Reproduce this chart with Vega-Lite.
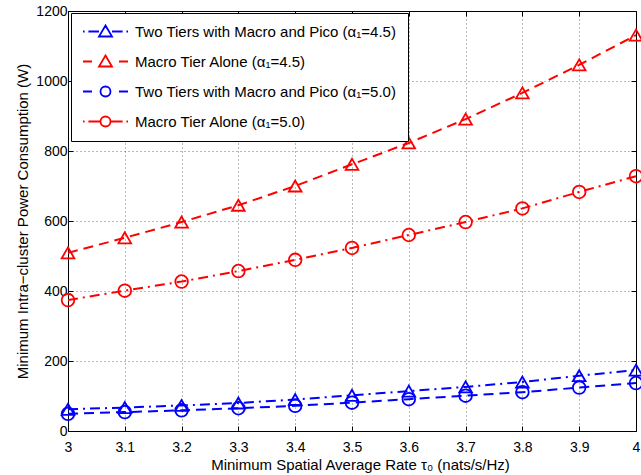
{
  "$schema": "https://vega.github.io/schema/vega-lite/v6.json",
  "width": 568,
  "height": 420,
  "autosize": {"type": "none"},
  "padding": {"left": 68, "top": 11, "right": 5, "bottom": 44},
  "background": "white",
  "config": {
    "font": "Liberation Sans",
    "view": {"stroke": "#000", "strokeWidth": 1},
    "axis": {
      "labelFont": "Liberation Sans",
      "titleFont": "Liberation Sans",
      "labelFontSize": 14,
      "titleFontSize": 15,
      "titleFontWeight": "normal",
      "labelColor": "#000",
      "titleColor": "#000",
      "domainColor": "#000",
      "tickColor": "#000",
      "gridColor": "#000",
      "gridDash": [1, 3],
      "gridOpacity": 0.55,
      "gridWidth": 1
    }
  },
  "data": {
    "values": [
      {"x": 3.0, "y": 62, "s": "A"}, {"x": 3.1, "y": 67, "s": "A"}, {"x": 3.2, "y": 73, "s": "A"}, {"x": 3.3, "y": 80, "s": "A"}, {"x": 3.4, "y": 90, "s": "A"}, {"x": 3.5, "y": 102, "s": "A"}, {"x": 3.6, "y": 114, "s": "A"}, {"x": 3.7, "y": 126, "s": "A"}, {"x": 3.8, "y": 140, "s": "A"}, {"x": 3.9, "y": 158, "s": "A"}, {"x": 4.0, "y": 174, "s": "A"},
      {"x": 3.0, "y": 509, "s": "B"}, {"x": 3.1, "y": 552, "s": "B"}, {"x": 3.2, "y": 597, "s": "B"}, {"x": 3.3, "y": 645, "s": "B"}, {"x": 3.4, "y": 700, "s": "B"}, {"x": 3.5, "y": 762, "s": "B"}, {"x": 3.6, "y": 823, "s": "B"}, {"x": 3.7, "y": 891, "s": "B"}, {"x": 3.8, "y": 966, "s": "B"}, {"x": 3.9, "y": 1046, "s": "B"}, {"x": 4.0, "y": 1131, "s": "B"},
      {"x": 3.0, "y": 49, "s": "C"}, {"x": 3.1, "y": 54, "s": "C"}, {"x": 3.2, "y": 59, "s": "C"}, {"x": 3.3, "y": 65, "s": "C"}, {"x": 3.4, "y": 72, "s": "C"}, {"x": 3.5, "y": 81, "s": "C"}, {"x": 3.6, "y": 91, "s": "C"}, {"x": 3.7, "y": 101, "s": "C"}, {"x": 3.8, "y": 111, "s": "C"}, {"x": 3.9, "y": 124, "s": "C"}, {"x": 4.0, "y": 137, "s": "C"},
      {"x": 3.0, "y": 374, "s": "D"}, {"x": 3.1, "y": 401, "s": "D"}, {"x": 3.2, "y": 427, "s": "D"}, {"x": 3.3, "y": 457, "s": "D"}, {"x": 3.4, "y": 489, "s": "D"}, {"x": 3.5, "y": 523, "s": "D"}, {"x": 3.6, "y": 560, "s": "D"}, {"x": 3.7, "y": 597, "s": "D"}, {"x": 3.8, "y": 636, "s": "D"}, {"x": 3.9, "y": 683, "s": "D"}, {"x": 4.0, "y": 728, "s": "D"}
    ]
  },
  "transform": [
    {"lookup": "s", "from": {"data": {"values": [
      {"s": "A", "series": "Two Tiers with Macro and Pico (α₁=4.5)"},
      {"s": "B", "series": "Macro Tier Alone (α₁=4.5)"},
      {"s": "C", "series": "Two Tiers with Macro and Pico (α₁=5.0)"},
      {"s": "D", "series": "Macro Tier Alone (α₁=5.0)"}
    ]}, "key": "s", "fields": ["series"]}}
  ],
  "layer": [
    {
      "mark": {"type": "line", "strokeWidth": 2},
      "encoding": {
        "x": {
          "field": "x", "type": "quantitative",
          "scale": {"domain": [3, 4], "nice": false, "zero": false},
          "axis": {
            "title": "Minimum Spatial Average Rate τ₀ (nats/s/Hz)",
            "values": [3, 3.1, 3.2, 3.3, 3.4, 3.5, 3.6, 3.7, 3.8, 3.9, 4],
            "format": "~g", "labelFlush": false, "grid": true,
            "tickSize": -5, "labelPadding": 14, "titlePadding": 3, "titleX": 292, "domain": false
          }
        },
        "y": {
          "field": "y", "type": "quantitative",
          "scale": {"domain": [0, 1200], "nice": false},
          "axis": {
            "title": "Minimum Intra−cluster Power Consumption (W)",
            "values": [0, 200, 400, 600, 800, 1000, 1200],
            "format": "d",
            "grid": true, "tickSize": -5, "labelPadding": 6, "titlePadding": 5, "domain": false
          }
        },
        "color": {
          "field": "series", "type": "nominal",
          "scale": {
            "domain": ["Two Tiers with Macro and Pico (α₁=4.5)", "Macro Tier Alone (α₁=4.5)", "Two Tiers with Macro and Pico (α₁=5.0)", "Macro Tier Alone (α₁=5.0)"],
            "range": ["#0000ff", "#ff0000", "#0000ff", "#ff0000"]
          },
          "legend": {
            "title": null,
            "orient": "none",
            "legendX": 3,
            "legendY": 2,
            "strokeColor": "#000",
            "fillColor": "#fff",
            "padding": 11,
            "symbolSize": 2025,
            "clipHeight": 15,
            "symbolStrokeWidth": 1.8,
            "labelOffset": 6,
            "labelFont": "Liberation Sans",
            "labelFontSize": 15,
            "labelColor": "#000",
            "labelLimit": 400,
            "rowPadding": 14,
            "encode": {
              "symbols": {
                "update": {
                  "fill": {"value": "transparent"},
                  "strokeDash": {"value": []},
                  "shape": {"signal": "indexof(datum.value,'Pico')>=0 && indexof(datum.value,'4.5')>=0 ? 'M-1,0H-0.93M-0.76,0H-0.29M0.29,0H0.76M0.93,0H1M0,-0.267L0.289,0.222L-0.289,0.222Z' : indexof(datum.value,'4.5')>=0 ? 'M-1,0H-0.6M0.6,0H1M0,-0.267L0.289,0.222L-0.289,0.222Z' : indexof(datum.value,'Pico')>=0 ? 'M-1,0H-0.6M0.6,0H1M-0.222,0A0.222,0.222 0 1,0 0.222,0A0.222,0.222 0 1,0 -0.222,0Z' : 'M-1,0H-0.93M-0.76,0H-0.222M0.222,0H0.76M0.93,0H1M-0.222,0A0.222,0.222 0 1,0 0.222,0A0.222,0.222 0 1,0 -0.222,0Z'"}
                }
              }
            }
          }
        },
        "strokeDash": {
          "field": "s", "type": "nominal",
          "scale": {
            "domain": ["A", "B", "C", "D"],
            "range": [[10, 5, 2, 5], [10, 6], [10, 6], [10, 5, 2, 5]]
          },
          "legend": null
        }
      }
    },
    {
      "mark": {"type": "point", "filled": false, "strokeWidth": 1.8, "opacity": 1},
      "encoding": {
        "x": {
          "field": "x", "type": "quantitative",
          "axis": {"orient": "top", "labels": false, "grid": false, "domain": false, "tickSize": -5, "title": null, "values": [3, 3.1, 3.2, 3.3, 3.4, 3.5, 3.6, 3.7, 3.8, 3.9, 4]}
        },
        "y": {
          "field": "y", "type": "quantitative",
          "axis": {"orient": "right", "labels": false, "grid": false, "domain": false, "tickSize": -5, "title": null, "values": [0, 200, 400, 600, 800, 1000, 1200]}
        },
        "color": {"field": "series", "type": "nominal"},
        "shape": {
          "field": "s", "type": "nominal",
          "scale": {
            "domain": ["A", "B", "C", "D"],
            "range": ["triangle-up", "triangle-up", "circle", "circle"]
          },
          "legend": null
        },
        "size": {
          "field": "s", "type": "nominal",
          "scale": {"domain": ["A", "B", "C", "D"], "range": [160, 160, 80, 80]},
          "legend": null
        }
      }
    }
  ],
  "resolve": {"axis": {"x": "independent", "y": "independent"}}
}
